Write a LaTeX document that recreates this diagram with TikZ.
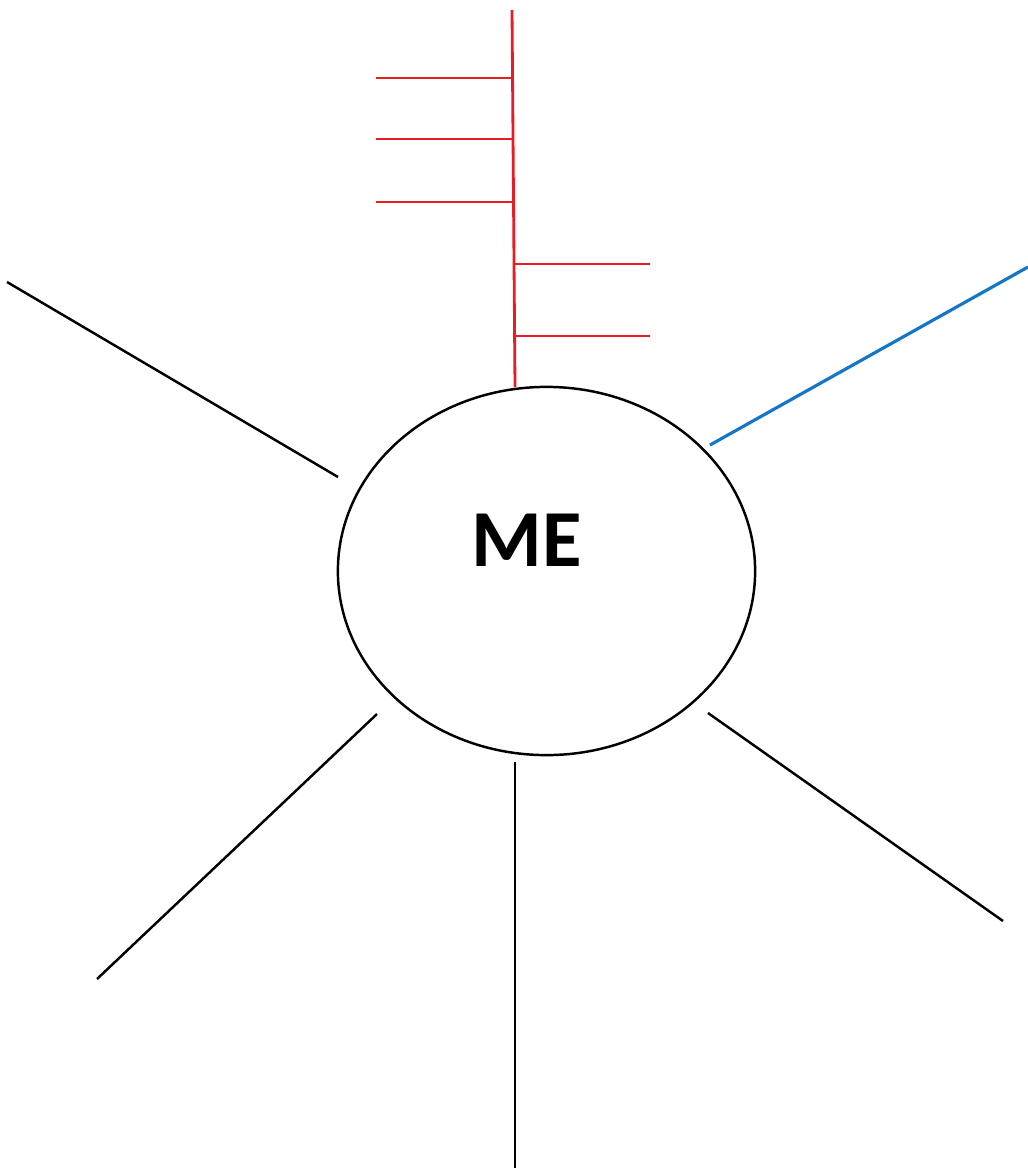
\documentclass[tikz,border=0pt]{standalone}
\usepackage{fontspec}
\setsansfont{Carlito}
\usetikzlibrary{shapes.geometric}
\definecolor{spokered}{RGB}{232,28,36}
\definecolor{spokeblue}{RGB}{20,118,196}
\tikzset{
  spoke/.style = {draw=black, line width=0.7pt},
  redspoke/.style = {draw=spokered, line width=0.8pt},
  bluespoke/.style = {draw=spokeblue, line width=0.9pt},
}
\begin{document}
\begin{tikzpicture}[x=0.01cm, y=-0.01cm]
  \useasboundingbox (0,0) rectangle (1028,1170);
  % centre
  \node[draw, line width=0.7pt, ellipse, minimum width=4.17cm, minimum height=3.68cm, inner sep=0pt] (me) at (546.5,571) {};
  \node[font=\sffamily\bfseries\fontsize{23}{23}\selectfont, inner sep=0pt] (metext) at (527,540) {ME};
  % red stem with branches
  \coordinate (stemtop) at (512,10);
  \coordinate (stembot) at (515,387);
  \draw[redspoke] (stembot) -- (stemtop);
  \foreach \y/\n in {78/a, 139/b, 202/c} {
    \coordinate (l\n) at (376,\y);
    \coordinate (lj\n) at (513,\y);
    \draw[redspoke] (l\n) -- (lj\n);
  }
  \foreach \y/\n in {264/d, 336/e} {
    \coordinate (rj\n) at (514.5,\y);
    \coordinate (r\n) at (650,\y);
    \draw[redspoke] (rj\n) -- (r\n);
  }
  % blue spoke
  \coordinate (bluein) at (710,445);
  \coordinate (blueout) at (1028,267);
  \draw[bluespoke] (bluein) -- (blueout);
  % black spokes
  \coordinate (nwin) at (338,477);
  \coordinate (nwout) at (7,282);
  \coordinate (swin) at (377,714);
  \coordinate (swout) at (97,979);
  \coordinate (sin) at (515,762);
  \coordinate (sout) at (515,1168);
  \coordinate (sein) at (708,713);
  \coordinate (seout) at (1003,921);
  \draw[spoke] (nwin) -- (nwout);
  \draw[spoke] (swin) -- (swout);
  \draw[spoke] (sin) -- (sout);
  \draw[spoke] (sein) -- (seout);
\end{tikzpicture}
\end{document}
